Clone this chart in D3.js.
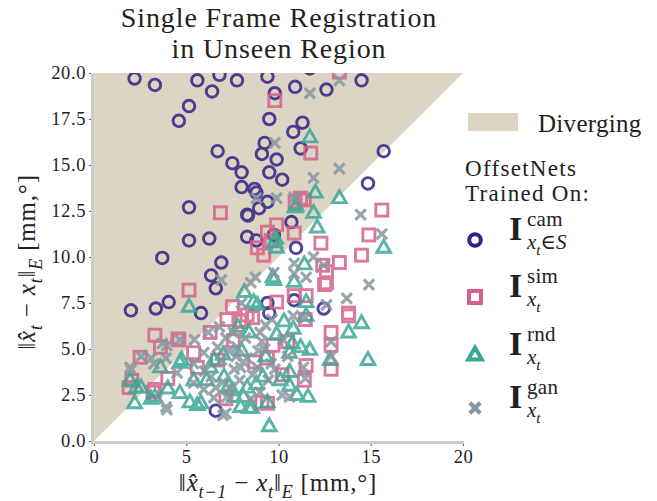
<!DOCTYPE html>
<html><head><meta charset="utf-8">
<script src="https://cdn.jsdelivr.net/npm/d3@7"></script>
<style>body{margin:0;background:#fff} svg text{font-family:"Liberation Serif","DejaVu Serif",serif;fill:#222}</style>
</head><body><svg id="c" width="657" height="501"></svg>
<script>
// ---------- data ----------
const xTicks = [0, 5, 10, 15, 20];
const yTicks = [0, 2.5, 5, 7.5, 10, 12.5, 15, 17.5, 20];
const seriesNames = ["cam", "sim", "rnd", "gan"];

const camPoints = [[2.2,19.7],[3.3,19.35],[5.6,19.6],[6.4,19.0],[6.8,19.9],[7.75,19.6],[5.15,18.2],[4.6,17.4],[6.7,15.75],[7.5,15.1],[8.0,14.6],[8.0,13.8],
[9.4,19.8],[11.7,20.25],[10.9,19.25],[12.6,19.1],[14.5,19.6],[9.8,18.9],[9.5,17.5],[11.3,17.3],[10.8,16.8],[9.25,16.2],[11.2,15.9],[9.1,15.6],[9.9,15.3],[9.5,14.6],[10.2,14.2],[8.7,13.7],[15.7,15.75],[14.85,14.0],
[5.15,12.7],[8.8,13.5],[9.4,13.0],[8.95,12.65],[8.3,12.3],[8.35,12.25],[5.15,10.9],[6.25,11.0],[8.3,11.1],[8.8,10.9],[3.7,9.95],[6.9,9.7],[6.35,9.0],[6.6,8.3],[9.75,11.2],[10.7,11.9],[10.95,10.5],[2.0,7.1],[3.35,7.2],[4.05,7.55],[5.8,6.95],[9.4,7.5],[10.85,7.65],[12.45,7.2],[6.6,1.65],[9.5,6.95]];

const simPoints = [[9.8,18.5],[13.3,20.05],[11.75,15.65],[6.85,12.4],[9.9,11.75],[11.2,13.2],[10.85,11.3],[8.85,10.5],[9.2,10.1],[9.4,11.35],[9.6,10.9],[12.3,10.75],[13.3,9.7],[12.6,9.2],[12.6,8.6],[14.5,10.1],[14.9,11.2],[15.6,12.55],[5.15,8.2],[7.5,7.3],[9.9,7.55],[10.85,7.9],[11.5,7.9],[13.8,6.95],[10.9,13.0],[11.4,13.1],[12.4,9.55],[12.5,8.5],
[3.3,5.75],[2.5,4.55],[2.05,3.3],[3.2,2.65],[6.3,5.9],[4.55,5.55],[3.6,5.1],[8.3,6.85],[7.9,6.5],[8.6,6.7],[7.55,5.45],[5.6,4.0],[9.1,2.1],[4.0,3.4],[1.9,2.9],[5.4,4.8],[8.0,6.55],[7.15,2.3],[13.8,6.8],[12.85,5.9],[12.85,5.2],[12.85,3.9],[11.45,6.6],[10.5,5.4],[11.5,4.1],[11.4,3.3],[9.4,2.05],[9.4,4.5],[4.6,5.5],[3.3,2.8],
[6.7,4.4],[8.7,4.3],[9.7,5.2],[7.2,6.6],[10.2,3.6]];

const rndPoints = [[11.7,16.5],[12.0,13.5],[13.3,13.2],[10.9,12.7],[11.9,12.4],[12.1,11.6],[9.8,10.8],[9.9,10.5],[15.7,10.5],[10.95,12.8],[9.85,11.0],[11.4,9.6],[9.75,8.75],[10.85,8.65],[8.15,8.1],[8.65,7.55],[11.5,7.55],[5.15,7.3],[9.7,8.9],
[1.95,3.3],[2.3,2.9],[2.2,2.05],[3.3,2.4],[4.0,2.85],[4.65,2.6],[5.2,2.1],[5.6,1.95],[4.65,4.25],[9.5,0.8],[8.85,7.4],[3.6,4.0],[4.75,4.4],[2.55,2.9],[3.1,2.3],[5.8,2.05],[6.1,3.3],[5.4,3.3],[6.5,4.4],[7.05,3.5],[7.6,2.4],[7.95,1.85],[8.4,1.8],[8.3,2.9],[7.5,2.75],[8.1,2.4],
[14.5,6.4],[13.8,5.9],[14.85,4.4],[12.8,4.4],[11.7,4.95],[11.2,5.1],[10.6,4.8],[10.8,6.1],[10.6,3.75],[11.0,2.5],[11.6,2.4],[10.6,3.0],[9.4,2.1],[8.55,1.8],[9.15,3.5],[10.1,3.3],[11.5,6.8],[10.75,5.3],
[7.0,4.7],[8.0,4.9],[8.8,3.1],[7.3,3.0],[9.3,4.6],[6.3,4.0],[8.4,5.9],[9.9,5.8],[10.3,6.5],[7.8,6.2]];

const ganPoints = [[13.3,19.6],[11.7,18.9],[9.8,16.2],[13.3,14.8],[11.9,14.3],[8.8,13.2],[9.9,13.2],[10.85,13.25],[14.45,12.3],[15.6,11.25],[14.9,8.5],[13.7,7.75],[12.45,9.55],[11.9,10.0],[10.85,9.65],[10.85,9.1],[9.75,9.15],[8.5,8.6],[6.9,8.75],[8.0,7.5],[12.6,7.4],[8.75,8.9],[11.5,8.9],
[7.55,5.9],[1.95,4.0],[3.1,4.5],[3.95,5.2],[4.65,5.5],[5.45,5.5],[3.95,1.7],[7.0,1.4],[6.2,5.9],[7.15,5.6],[3.7,5.3],[2.55,4.6],[2.0,3.85],[3.25,4.2],[3.9,4.5],[4.5,3.7],[3.9,1.85],[5.4,4.2],[5.95,4.8],[6.35,3.5],[6.9,4.4],[7.15,1.5],[7.4,2.9],[7.95,4.0],[7.75,5.1],[8.3,4.5],[7.2,2.4],[6.5,2.35],[5.95,2.8],[5.4,3.15],
[12.85,5.4],[12.85,4.6],[11.45,6.7],[10.8,6.8],[9.65,6.6],[10.5,4.6],[10.25,5.5],[9.25,5.0],[8.85,4.0],[9.45,3.3],[10.2,2.5],[9.0,2.65],[11.35,4.0],[11.45,3.4],[10.6,2.4],
[6.8,6.2],[7.3,4.9],[7.9,3.3],[8.6,3.6],[8.2,5.6],[9.0,5.9],[9.6,4.2],[6.7,5.1],[7.6,3.9],[8.9,4.9],[9.3,6.3],[6.0,3.8],[8.5,2.3],[9.8,3.9],
[7.0,3.2],[8.1,4.3],[6.6,2.9],[9.1,5.4],[7.7,4.6]];

const titleLines = ["Single Frame Registration", "in Unseen Region"];
const legendTitleLines = ["OffsetNets", "Trained On:"];

// ---------- drawing ----------
const svg = d3.select("#c");
const x = d3.scaleLinear().domain([0, 20]).range([94, 463]);
const y = d3.scaleLinear().domain([0, 20]).range([441, 73]);
const colors = {cam: "#332288", sim: "#d6628a", rnd: "#3aa797", gan: "#8797a0"};
const beige = "#ddd5c4";

svg.append("clipPath").attr("id", "clip").append("rect")
  .attr("x", x(0)).attr("y", y(20)).attr("width", x(20) - x(0)).attr("height", y(0) - y(20));

// diverging region
svg.append("path")
  .attr("d", d3.line()([[x(0), y(0)], [x(0), y(20)], [x(20), y(20)]]) + "Z")
  .attr("fill", beige);

// markers
const SW = 2.9;
function drawMarker(g, kind, cx, cy, sw) {
  const c = colors[kind];
  sw = sw || SW;
  if (kind === "cam") {
    g.append("circle").attr("cx", cx).attr("cy", cy).attr("r", 5.8)
      .attr("fill", "none").attr("stroke", c).attr("stroke-width", sw);
  } else if (kind === "sim") {
    g.append("rect").attr("x", cx - 6).attr("y", cy - 6).attr("width", 12).attr("height", 12)
      .attr("fill", "none").attr("stroke", c).attr("stroke-width", sw);
  } else if (kind === "rnd") {
    g.append("path").attr("d", `M${cx},${cy - 7.5}L${cx + 6.8},${cy + 4.5}L${cx - 6.8},${cy + 4.5}Z`)
      .attr("fill", "none").attr("stroke", c).attr("stroke-width", sw).attr("stroke-linejoin", "miter");
  } else {
    g.append("path").attr("d", `M${cx - 5.2},${cy - 5.2}L${cx + 5.2},${cy + 5.2}M${cx - 5.2},${cy + 5.2}L${cx + 5.2},${cy - 5.2}`)
      .attr("fill", "none").attr("stroke", c).attr("stroke-width", sw + 0.3);
  }
}
const plot = svg.append("g").attr("clip-path", "url(#clip)");
const allSeries = {cam: camPoints, sim: simPoints, rnd: rndPoints, gan: ganPoints};
seriesNames.forEach(k => {
  const g = plot.append("g").attr("opacity", 0.85);
  allSeries[k].forEach(p => drawMarker(g, k, x(p[0]), y(p[1])));
});

// spines
svg.append("line").attr("x1", x(0) - 1.5).attr("x2", x(0) - 1.5).attr("y1", y(20)).attr("y2", y(0) + 3)
  .attr("stroke", "#cccccc").attr("stroke-width", 3);
svg.append("line").attr("x1", x(0) - 3).attr("x2", x(20) + 1).attr("y1", y(0) + 1.5).attr("y2", y(0) + 1.5)
  .attr("stroke", "#cccccc").attr("stroke-width", 3);

// axes
const yAxis = svg.append("g").attr("transform", `translate(${x(0) - 3},0)`)
  .call(d3.axisLeft(y).tickValues(yTicks).tickFormat(d3.format(".1f")).tickSize(2).tickPadding(3));
const xAxis = svg.append("g").attr("transform", `translate(0,${y(0) + 3})`)
  .call(d3.axisBottom(x).tickValues(xTicks).tickFormat(d3.format("d")).tickSize(2).tickPadding(4));
[yAxis, xAxis].forEach(a => {
  a.select(".domain").remove();
  a.selectAll(".tick line").attr("stroke", "#666").attr("stroke-width", 1.2);
  a.selectAll(".tick text").attr("font-family", "Liberation Serif").attr("font-size", 18.5)
    .attr("letter-spacing", 0.6).attr("fill", "#222");
});

// rich text helper: segments [text, style] style: i italic, b sub
function rich(sel, segs, size) {
  let shift = 0;
  segs.forEach(s => {
    const [t, st = ""] = s;
    let target = 0;
    let fs = size;
    if (st.includes("b")) { target = size * 0.28; fs = size * 0.72; }
    const ts = sel.append("tspan").text(t).attr("font-size", fs)
      .attr("dy", target - shift);
    if (st.includes("i")) ts.attr("font-style", "italic");
    shift = target;
  });
}

// title (two lines)
titleLines.forEach((t, i) =>
  svg.append("text").attr("x", 279).attr("y", 27 + i * 31).attr("text-anchor", "middle")
    .attr("font-size", 28).attr("letter-spacing", 0.9).text(t));

// x label
const xl = svg.append("text").attr("x", 278).attr("y", 491).attr("text-anchor", "middle")
  .attr("font-size", 25).attr("letter-spacing", 0.8);
rich(xl, [["‖"], ["x̂", "i"], ["t−1", "ib"], [" − "], ["x", "i"], ["t", "ib"], ["‖"], ["E", "ib"], ["  [mm,°]"]], 25);
// y label
const yl = svg.append("text").attr("transform", `translate(35,262) rotate(-90)`).attr("text-anchor", "middle")
  .attr("font-size", 25).attr("letter-spacing", 0.8);
rich(yl, [["‖"], ["x̂", "i"], ["t", "ib"], [" − "], ["x", "i"], ["t", "ib"], ["‖"], ["E", "ib"], ["  [mm,°]"]], 25);

// legend
svg.append("rect").attr("x", 468).attr("y", 113).attr("width", 50).attr("height", 18).attr("fill", beige);
svg.append("text").attr("x", 538).attr("y", 132).attr("font-size", 25).attr("letter-spacing", 0.3).text("Diverging");
legendTitleLines.forEach((t, i) =>
  svg.append("text").attr("x", 465).attr("y", 175.5 + i * 25.5).attr("font-size", 23)
    .attr("letter-spacing", 1.3).text(t));

const legendRows = [
  {k: "cam", my: 240, sup: "cam", sub: [["x", "i"], ["t", "ib"], ["∈S", "i"]]},
  {k: "sim", my: 297, sup: "sim", sub: [["x", "i"], ["t", "ib"]]},
  {k: "rnd", my: 355, sup: "rnd", sub: [["x", "i"], ["t", "ib"]]},
  {k: "gan", my: 408, sup: "gan", sub: [["x", "i"], ["t", "ib"]]}
];
legendRows.forEach(r => {
  const g = svg.append("g");
  drawMarker(g, r.k, 475, r.my, 4);
  svg.append("text").attr("x", 509).attr("y", r.my).attr("font-size", 34).attr("font-weight", "bold").text("I");
  svg.append("text").attr("x", 527).attr("y", r.my - 14).attr("font-size", 21).attr("letter-spacing", 0.3).text(r.sup);
  const st = svg.append("text").attr("x", 527).attr("y", r.my + 9).attr("font-size", 21);
  rich(st, r.sub, 21);
});
</script></body></html>
